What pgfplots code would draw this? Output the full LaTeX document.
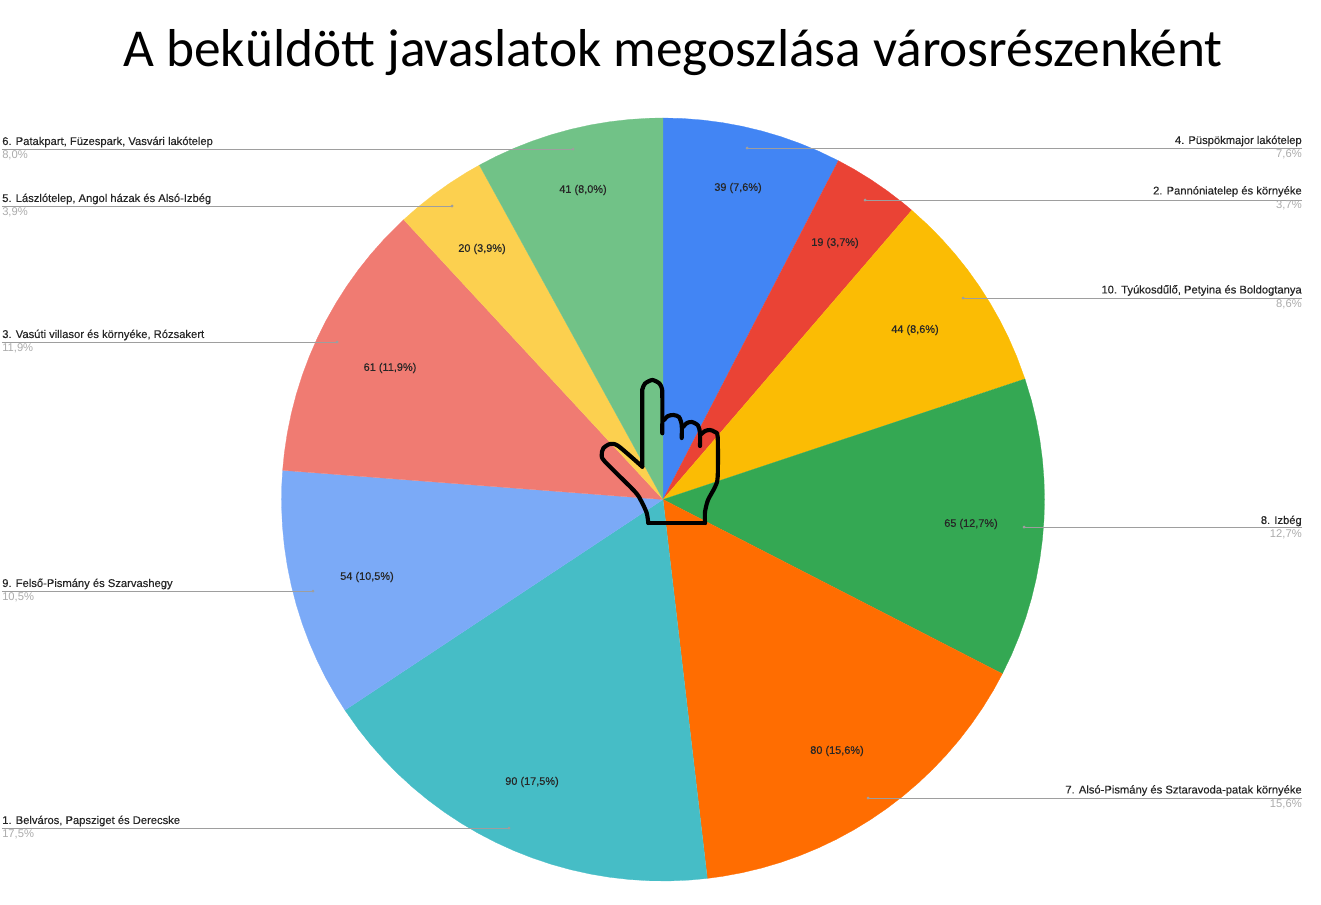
\documentclass[border=0pt]{standalone}
\usepackage{fontspec}
\usepackage{pgfplots}
\pgfplotsset{compat=1.18}
\setmainfont{Carlito}
\newfontfamily\lab[FakeBold=0.25]{Liberation Sans}
\newfontfamily\pct{Liberation Sans}
\definecolor{cA}{HTML}{4285F4}\definecolor{cB}{HTML}{EA4335}\definecolor{cC}{HTML}{FBBC04}
\definecolor{cD}{HTML}{34A853}\definecolor{cE}{HTML}{FF6D01}\definecolor{cF}{HTML}{46BDC6}
\definecolor{cG}{HTML}{7BAAF7}\definecolor{cH}{HTML}{F07B72}\definecolor{cI}{HTML}{FCD04F}
\definecolor{cJ}{HTML}{71C287}\definecolor{ll}{HTML}{9E9E9E}\definecolor{pg}{HTML}{ABABAB}
\pgfplotsset{wedge/.style={fill=#1,draw=#1,line width=0.2pt,forget plot,data cs=polar}}
\begin{document}
\begin{tikzpicture}
\path[use as bounding box] (0,0) rectangle (990.75pt,678pt);
\begin{axis}[at={(0,0)},anchor=south west,scale only axis,width=990.75pt,height=678pt,
  xmin=-663,xmax=658,ymin=-404.5,ymax=499.5,hide axis,clip=false]
\addplot[wedge=cA] coordinates {(0,0)(90,381.5)(87,381.5)(84,381.5)(81,381.5)(78,381.5)(75,381.5)(72,381.5)(69,381.5)(66,381.5)(62.63,381.5)};
\addplot[wedge=cB] coordinates {(0,0)(62.63,381.5)(60,381.5)(57,381.5)(54,381.5)(51,381.5)(49.30,381.5)};
\addplot[wedge=cC] coordinates {(0,0)(49.30,381.5)(46,381.5)(43,381.5)(40,381.5)(37,381.5)(34,381.5)(31,381.5)(28,381.5)(25,381.5)(22,381.5)(18.42,381.5)};
\addplot[wedge=cD] coordinates {(0,0)(18.42,381.5)(15,381.5)(12,381.5)(9,381.5)(6,381.5)(3,381.5)(0,381.5)(-3,381.5)(-6,381.5)(-9,381.5)(-12,381.5)(-15,381.5)(-18,381.5)(-21,381.5)(-24,381.5)(-27.19,381.5)};
\addplot[wedge=cE] coordinates {(0,0)(-27.19,381.5)(-30,381.5)(-33,381.5)(-36,381.5)(-39,381.5)(-42,381.5)(-45,381.5)(-48,381.5)(-51,381.5)(-54,381.5)(-57,381.5)(-60,381.5)(-63,381.5)(-66,381.5)(-69,381.5)(-72,381.5)(-75,381.5)(-78,381.5)(-81,381.5)(-83.33,381.5)};
\addplot[wedge=cF] coordinates {(0,0)(-83.33,381.5)(-86,381.5)(-89,381.5)(-92,381.5)(-95,381.5)(-98,381.5)(-101,381.5)(-104,381.5)(-107,381.5)(-110,381.5)(-113,381.5)(-116,381.5)(-119,381.5)(-122,381.5)(-125,381.5)(-128,381.5)(-131,381.5)(-134,381.5)(-137,381.5)(-140,381.5)(-143,381.5)(-146.49,381.5)};
\addplot[wedge=cG] coordinates {(0,0)(-146.49,381.5)(-149,381.5)(-152,381.5)(-155,381.5)(-158,381.5)(-161,381.5)(-164,381.5)(-167,381.5)(-170,381.5)(-173,381.5)(-176,381.5)(-179,381.5)(-182,381.5)(-184.39,381.5)};
\addplot[wedge=cH] coordinates {(0,0)(-184.39,381.5)(-187,381.5)(-190,381.5)(-193,381.5)(-196,381.5)(-199,381.5)(-202,381.5)(-205,381.5)(-208,381.5)(-211,381.5)(-214,381.5)(-217,381.5)(-220,381.5)(-223,381.5)(-227.19,381.5)};
\addplot[wedge=cI] coordinates {(0,0)(-227.19,381.5)(-230,381.5)(-233,381.5)(-236,381.5)(-239,381.5)(-241.23,381.5)};
\addplot[wedge=cJ] coordinates {(0,0)(-241.23,381.5)(-244,381.5)(-247,381.5)(-250,381.5)(-253,381.5)(-256,381.5)(-259,381.5)(-262,381.5)(-265,381.5)(-268,381.5)(-270,381.5)};
\end{axis}
\begin{axis}[at={(0,0)},anchor=south west,scale only axis,width=990.75pt,height=678pt,
  xmin=0,xmax=1321,ymin=0,ymax=904,y dir=reverse,hide axis,clip=false]
% leader lines
\pgfplotsset{leader/.style={ll,line width=0.75pt,forget plot,mark=*,mark size=0.6pt,mark indices={2},mark options={ll}}}
\addplot[leader] coordinates {(2,149)(573,149)};
\addplot[leader] coordinates {(2,206)(452,206)};
\addplot[leader] coordinates {(2,342)(337,342)};
\addplot[leader] coordinates {(2,591)(313,591)};
\addplot[leader] coordinates {(2,828)(509,828)};
\addplot[leader] coordinates {(1302,148)(747,148)};
\addplot[leader] coordinates {(1302,200)(865,200)};
\addplot[leader] coordinates {(1302,298)(963,298)};
\addplot[leader] coordinates {(1302,527)(1024,527)};
\addplot[leader] coordinates {(1302,798)(868,798)};
% hand icon
\pgfplotsset{hand/.style={black,line width=3.1pt,forget plot,line cap=round,line join=round,smooth,tension=0.45}}
\addplot[hand] coordinates {(642.3,466.7)(642.3,395)(642.5,389)(645,383.5)(652.3,380)(659.5,383.5)(662,389)(662.3,395)(662.3,433.3)};
\addplot[hand] coordinates {(664,420)(668,416)(673.5,415)(679,417)(681.7,425)(681.7,438)};
\addplot[hand] coordinates {(683,427)(687,423)(692,422)(698,425.5)(700,433)(700,446)};
\addplot[hand] coordinates {(701.5,434)(705,431)(710,430)(715,432)(717.7,437)(717.7,476.7)(715,487)(708,500)(705,512)(705,523)};
\addplot[black,line width=3.1pt,forget plot,line join=round,line cap=round] coordinates {(705,523)(648.3,523)};
\addplot[hand] coordinates {(648.3,523)(646.7,513)(641.7,502)(635,491.7)(605,461.7)(601.7,455)(603.3,448.3)(610,444)(618.3,446)(642.3,466.7)};
% title
\node[anchor=base,inner sep=0pt,font=\fontsize{40}{40}\selectfont] at (axis cs:673,66) {A beküldött javaslatok megoszlása városrészenként};
% outer labels
\pgfplotsset{}
\tikzset{L/.style={anchor=west,inner sep=0pt,font=\lab\fontsize{8.4}{10}\selectfont,text=black!85},
 LP/.style={anchor=west,inner sep=0pt,font=\pct\fontsize{8.4}{10}\selectfont,text=pg},
 R/.style={anchor=east,inner sep=0pt,font=\lab\fontsize{8.4}{10}\selectfont,text=black!85},
 RP/.style={anchor=east,inner sep=0pt,font=\pct\fontsize{8.4}{10}\selectfont,text=pg},
 V/.style={inner sep=0pt,font=\lab\fontsize{8.2}{10}\selectfont,text=black!85}}
\node[L] at (axis cs:2,142) {6. Patakpart, Füzespark, Vasvári lakótelep};
\node[LP] at (axis cs:2,155.5) {8,0\%};
\node[L] at (axis cs:2,199) {5. Lászlótelep, Angol házak és Alsó-Izbég};
\node[LP] at (axis cs:2,212.5) {3,9\%};
\node[L] at (axis cs:2,335) {3. Vasúti villasor és környéke, Rózsakert};
\node[LP] at (axis cs:2,348.5) {11,9\%};
\node[L] at (axis cs:2,584) {9. Felső-Pismány és Szarvashegy};
\node[LP] at (axis cs:2,597.5) {10,5\%};
\node[L] at (axis cs:2,821) {1. Belváros, Papsziget és Derecske};
\node[LP] at (axis cs:2,834.5) {17,5\%};
\node[R] at (axis cs:1302,141) {4. Püspökmajor lakótelep};
\node[RP] at (axis cs:1302,154.5) {7,6\%};
\node[R] at (axis cs:1302,191.5) {2. Pannóniatelep és környéke};
\node[RP] at (axis cs:1302,205) {3,7\%};
\node[R] at (axis cs:1302,290.5) {10. Tyúkosdűlő, Petyina és Boldogtanya};
\node[RP] at (axis cs:1302,304) {8,6\%};
\node[R] at (axis cs:1302,521) {8. Izbég};
\node[RP] at (axis cs:1302,534.5) {12,7\%};
\node[R] at (axis cs:1302,790.5) {7. Alsó-Pismány és Sztaravoda-patak környéke};
\node[RP] at (axis cs:1302,804) {15,6\%};
% value labels
\node[V] at (axis cs:738,188) {39 (7,6\%)};
\node[V] at (axis cs:835,243) {19 (3,7\%)};
\node[V] at (axis cs:915,330) {44 (8,6\%)};
\node[V] at (axis cs:971,524) {65 (12,7\%)};
\node[V] at (axis cs:837,751) {80 (15,6\%)};
\node[V] at (axis cs:532,782) {90 (17,5\%)};
\node[V] at (axis cs:367,577) {54 (10,5\%)};
\node[V] at (axis cs:390,368) {61 (11,9\%)};
\node[V] at (axis cs:482,249) {20 (3,9\%)};
\node[V] at (axis cs:583,190) {41 (8,0\%)};
\end{axis}
\end{tikzpicture}
\end{document}
